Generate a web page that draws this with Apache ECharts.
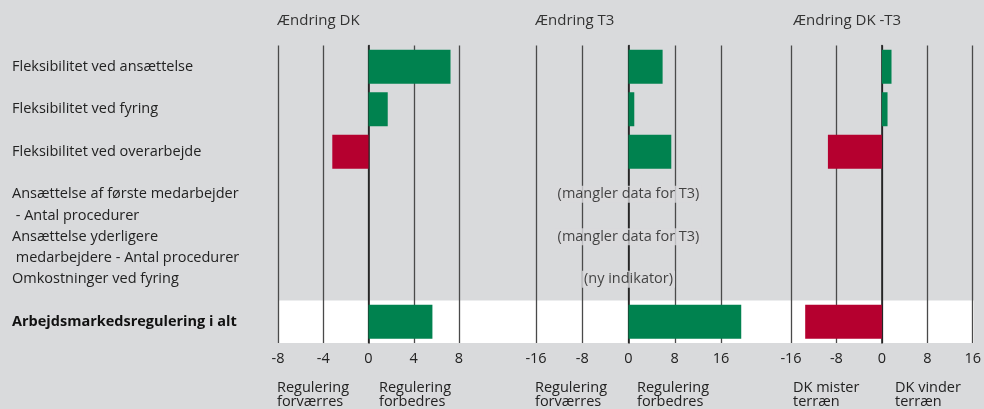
<!DOCTYPE html>
<html>
<head>
<meta charset="utf-8">
<script src="https://cdn.jsdelivr.net/npm/echarts@6/dist/echarts.min.js"></script>
<style>
  html, body { margin: 0; padding: 0; background: #d9dadc; }
  #chart { width: 984px; height: 409px; }
</style>
</head>
<body>
<div id="chart"></div>
<script>
var categories = [
  'Fleksibilitet ved ansættelse',
  'Fleksibilitet ved fyring',
  'Fleksibilitet ved overarbejde',
  'Ansættelse af første medarbejder\n - Antal procedurer',
  'Ansættelse yderligere\n medarbejdere - Antal procedurer',
  'Omkostninger ved fyring',
  'Arbejdsmarkedsregulering i alt'
];
var dkValues = [7.25, 1.7, -3.2, null, null, null, 5.65];
var t3Values = [5.9, 1.0, 7.4, null, null, null, 19.5];
var diffValues = [1.7, 1.0, -9.5, null, null, null, -13.5];
var t3Notes = ['', '', '', '(mangler data for T3)', '(mangler data for T3)', '(ny indikator)', ''];
var panelTitles = ['Ændring DK', 'Ændring T3', 'Ændring DK -T3'];
var dkRange = [-8, 8, 4];
var t3Range = [-16, 16, 8];
var diffRange = [-16, 16, 8];
var footLeft = ['Regulering\nforværres', 'Regulering\nforværres', 'DK mister\nterræn'];
var footRight = ['Regulering\nforbedres', 'Regulering\nforbedres', 'DK vinder\nterræn'];

var GREEN = '#00824f', RED = '#b5002f', BG = '#d9dadc';
var FONT = 'Open Sans';
var FS = 14.5;
var chart = echarts.init(document.getElementById('chart'));

var grids = [
  { left: 278, width: 181, top: 45.5, height: 297.5 },
  { left: 536, width: 185, top: 45.5, height: 297.5 },
  { left: 791, width: 183, top: 45.5, height: 297.5 },
  { left: 278, width: 696, top: 45.5, height: 297.5 }
];
var ranges = [dkRange, t3Range, diffRange];

var xAxes = ranges.map(function (r, i) {
  return {
    type: 'value', gridIndex: i, min: r[0], max: r[1], interval: r[2],
    axisLine: { show: false }, axisTick: { show: false },
    splitLine: { show: true, lineStyle: { color: '#4a4a4a', width: 1.3 } },
    axisLabel: { margin: 8.5, color: '#222', fontSize: FS, fontFamily: FONT }
  };
});
xAxes.push({ type: 'value', gridIndex: 3, min: 0, max: 1, show: false });

var yAxes = [0, 1, 2].map(function (i) {
  return {
    type: 'category', gridIndex: i, data: categories, inverse: true,
    axisLine: { show: true, onZero: true, lineStyle: { color: '#1a1a1a', width: 1.5 } },
    axisTick: { show: false },
    axisLabel: i === 0 ? {
      show: true, align: 'left', margin: 266, color: '#222', fontSize: FS,
      fontFamily: FONT, lineHeight: 21.5,
      formatter: function (v, idx) {
        if (idx === 6) return '{b|' + v + '}';
        return v.indexOf('\n') >= 0 ? '\n' + v : v;
      },
      rich: { b: { fontWeight: 'bold', fontSize: FS, fontFamily: FONT, color: '#111' } }
    } : { show: false }
  };
});
yAxes.push({ type: 'category', gridIndex: 3, data: categories, inverse: true, show: false });

function colored(vals) {
  return vals.map(function (v) {
    return v === null ? null : { value: v, itemStyle: { color: v < 0 ? RED : GREEN } };
  });
}

var series = [
  {
    type: 'bar', xAxisIndex: 3, yAxisIndex: 3, z: -1, silent: true,
    barWidth: '100%',
    data: categories.map(function (c, i) { return i === categories.length - 1 ? 1 : null; }),
    itemStyle: { color: '#ffffff' }
  },
  { type: 'bar', xAxisIndex: 0, yAxisIndex: 0, barWidth: '80%', clip: false, data: colored(dkValues) },
  { type: 'bar', xAxisIndex: 1, yAxisIndex: 1, barWidth: '80%', clip: false, data: colored(t3Values) },
  { type: 'bar', xAxisIndex: 2, yAxisIndex: 2, barWidth: '80%', clip: false, data: colored(diffValues) },
  {
    type: 'scatter', xAxisIndex: 1, yAxisIndex: 1, symbolSize: 0, z: 5, silent: true,
    data: t3Notes.map(function (n, i) { return n ? { value: [0, i], note: n } : null; }),
    label: {
      show: true, position: 'inside', color: '#1a1a1a', fontSize: FS, fontFamily: FONT,
      backgroundColor: BG, padding: [1, 2],
      formatter: function (p) { return p.data.note; }
    }
  }
];

var titleLefts = [277, 535, 793];
var titles = [];
panelTitles.forEach(function (t, i) {
  titles.push({ text: t, left: titleLefts[i], top: 13, padding: 0,
    textStyle: { color: '#333', fontSize: 15, fontWeight: 'normal', fontFamily: FONT } });
});
var footLeftX = [277, 535, 793], footRightX = [379, 637, 895];
footLeft.forEach(function (t, i) {
  titles.push({ text: t, left: footLeftX[i], top: 381, padding: 0,
    textStyle: { color: '#222', fontSize: FS, fontWeight: 'normal', fontFamily: FONT, lineHeight: 14 } });
  titles.push({ text: footRight[i], left: footRightX[i], top: 381, padding: 0,
    textStyle: { color: '#222', fontSize: FS, fontWeight: 'normal', fontFamily: FONT, lineHeight: 14 } });
});

chart.setOption({
  backgroundColor: BG,
  animation: false,
  title: titles,
  grid: grids,
  xAxis: xAxes,
  yAxis: yAxes,
  series: series
});
window.onresize = function () { chart.resize(); };
</script>
</body>
</html>
